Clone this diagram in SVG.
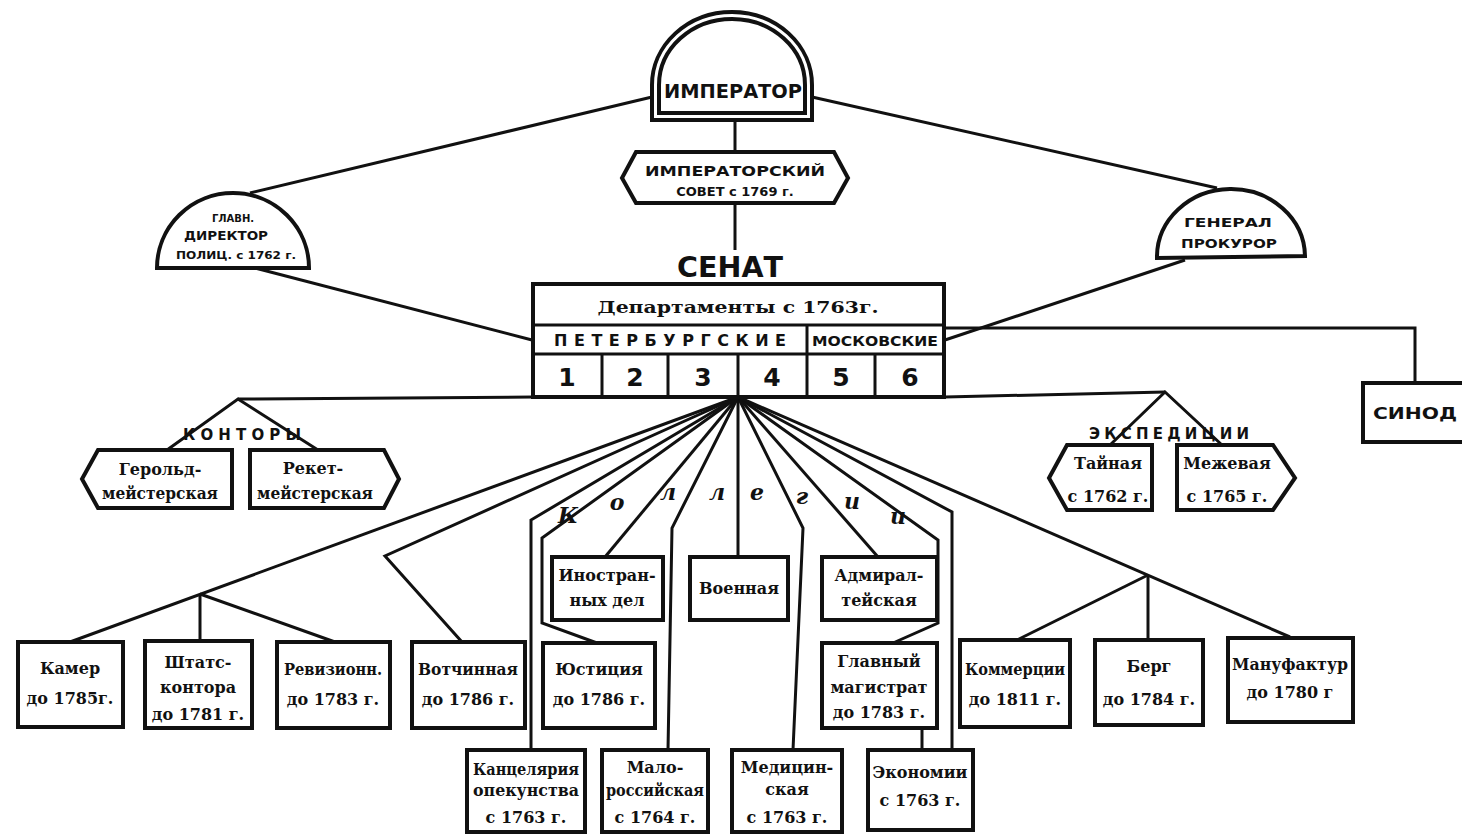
<svg xmlns="http://www.w3.org/2000/svg" width="1462" height="836" viewBox="0 0 1462 836">
<style>
.bx{fill:#fff;stroke:#111;stroke-width:4;stroke-linejoin:miter}
.ln{fill:none;stroke:#111;stroke-width:3;stroke-linejoin:miter}
.t{font-family:"DejaVu Serif","Liberation Serif",serif;font-weight:bold;font-size:16px;fill:#111;text-anchor:middle}
.s{font-family:"DejaVu Sans","Liberation Sans",sans-serif;font-weight:bold;fill:#111;text-anchor:middle}
.k{font-family:"DejaVu Serif","Liberation Serif",serif;font-weight:bold;font-style:italic;font-size:22px;fill:#111;text-anchor:middle}
</style>
<rect x="0" y="0" width="1462" height="836" fill="#fff"/>
<g id="connectors" class="ln">
<line x1="735" y1="120" x2="735" y2="152"/>
<line x1="735" y1="203" x2="735" y2="250"/>
<line x1="652" y1="97" x2="250" y2="193"/>
<line x1="812" y1="97" x2="1217" y2="188"/>
<line x1="255" y1="268" x2="532" y2="340"/>
<line x1="1185" y1="260" x2="945" y2="340"/>
<polyline points="945,328 1415,328 1415,383"/>
<polyline points="238,399 533,397"/>
<polyline points="945,397 1165,392"/>
<polyline points="167,450 238,399 318,450"/>
<polyline points="1110,445 1165,392 1222,445"/>
<line x1="738" y1="397" x2="70" y2="642"/>
<line x1="200" y1="594" x2="200" y2="641"/>
<line x1="200" y1="594" x2="335" y2="642"/>
<polyline points="738,397 385,556 462,642"/>
<polyline points="738,397 531,520 531,750"/>
<polyline points="738,397 542,538 542,623 597,643"/>
<line x1="738" y1="397" x2="605" y2="557"/>
<polyline points="738,397 672,528 668,750"/>
<line x1="738" y1="397" x2="738" y2="557"/>
<polyline points="738,397 803,528 793,750"/>
<line x1="738" y1="397" x2="878" y2="557"/>
<polyline points="738,397 938,540 938,623 893,643"/>
<polyline points="738,397 952,512 952,750"/>
<line x1="922" y1="728" x2="922" y2="750"/>
<line x1="738" y1="397" x2="1290" y2="637"/>
<line x1="1148" y1="575" x2="1148" y2="640"/>
<line x1="1148" y1="575" x2="1017" y2="640"/>
</g>
<g id="emperor">
<path class="bx" d="M652,120 L652,85 A80,73 0 0 1 812,85 L812,120 Z"/>
<path class="bx" stroke-width="3" d="M659,113 L659,85 A73,66 0 0 1 805,85 L805,113 Z"/>
<text class="s" x="733" y="98" font-size="20" textLength="138" lengthAdjust="spacingAndGlyphs">ИМПЕРАТОР</text>
</g>
<g id="imperial-council">
<path class="bx" d="M636,152 L834,152 L848,178 L834,203 L636,203 L622,178 Z"/>
<text class="s" x="735" y="176" font-size="14" textLength="180" lengthAdjust="spacingAndGlyphs">ИМПЕРАТОРСКИЙ</text>
<text class="s" x="735" y="196" font-size="13">СОВЕТ с 1769 г.</text>
</g>
<g id="glavn-direktor">
<path class="bx" d="M157,268 A76,75 0 0 1 309,268 Z"/>
<text class="s" x="233" y="222" font-size="10">ГЛАВН.</text>
<text class="s" x="226" y="240" font-size="12" textLength="84" lengthAdjust="spacingAndGlyphs">ДИРЕКТОР</text>
<text class="s" x="236" y="259" font-size="10" textLength="120" lengthAdjust="spacingAndGlyphs">ПОЛИЦ. с 1762 г.</text>
</g>
<g id="gen-prokuror">
<path class="bx" d="M1157,258 A74,68 0 0 1 1305,256 Z"/>
<text class="s" x="1228" y="227" font-size="12" textLength="88" lengthAdjust="spacingAndGlyphs">ГЕНЕРАЛ</text>
<text class="s" x="1229" y="248" font-size="12" textLength="96" lengthAdjust="spacingAndGlyphs">ПРОКУРОР</text>
</g>
<g id="senate">
<text class="s" x="730" y="277" font-size="29" textLength="106" lengthAdjust="spacingAndGlyphs">СЕНАТ</text>
<rect class="bx" x="533" y="284" width="411" height="113"/>
<line class="ln" x1="533" y1="325" x2="944" y2="325"/>
<line class="ln" x1="533" y1="354" x2="944" y2="354"/>
<line class="ln" x1="807" y1="325" x2="807" y2="397"/>
<line class="ln" x1="602" y1="354" x2="602" y2="397"/>
<line class="ln" x1="668" y1="354" x2="668" y2="397"/>
<line class="ln" x1="738" y1="354" x2="738" y2="397"/>
<line class="ln" x1="875" y1="354" x2="875" y2="397"/>
<text class="t" x="738" y="313" font-size="22" textLength="281" lengthAdjust="spacingAndGlyphs">Департаменты с 1763г.</text>
<text class="s" x="670" y="346" font-size="16" textLength="232" lengthAdjust="spacing">ПЕТЕРБУРГСКИЕ</text>
<text class="s" x="875" y="346" font-size="14" textLength="126" lengthAdjust="spacingAndGlyphs">МОСКОВСКИЕ</text>
<text class="s" x="567" y="386" font-size="25">1</text>
<text class="s" x="635" y="386" font-size="25">2</text>
<text class="s" x="703" y="386" font-size="25">3</text>
<text class="s" x="772" y="386" font-size="25">4</text>
<text class="s" x="841" y="386" font-size="25">5</text>
<text class="s" x="910" y="386" font-size="25">6</text>
</g>
<g id="synod">
<rect class="bx" x="1363" y="383" width="110" height="59"/>
<text class="s" x="1415" y="419" font-size="16" textLength="84" lengthAdjust="spacingAndGlyphs">СИНОД</text>
</g>
<g id="kontory-label">
<text class="s" x="242" y="440" font-size="15" textLength="118" lengthAdjust="spacing">КОНТОРЫ</text>
</g>
<g id="gerold">
<path class="bx" d="M98,450 L232,450 L232,508 L98,508 L82,479 Z"/>
<text class="t" x="160" y="475" font-size="16">Герольд-</text>
<text class="t" x="160" y="499" font-size="15" textLength="116" lengthAdjust="spacingAndGlyphs">мейстерская</text>
</g>
<g id="reket">
<path class="bx" d="M250,450 L384,450 L399,479 L384,508 L250,508 Z"/>
<text class="t" x="313" y="474" font-size="16">Рекет-</text>
<text class="t" x="315" y="499" font-size="15" textLength="116" lengthAdjust="spacingAndGlyphs">мейстерская</text>
</g>
<g id="ekspeditsii-label">
<text class="s" x="1169" y="439" font-size="15" textLength="160" lengthAdjust="spacing">ЭКСПЕДИЦИИ</text>
</g>
<g id="tainaya">
<path class="bx" d="M1067,445 L1152,445 L1152,510 L1067,510 L1049,478 Z"/>
<text class="t" x="1108" y="469" font-size="16">Тайная</text>
<text class="t" x="1108" y="502" font-size="16">с 1762 г.</text>
</g>
<g id="mezhevaya">
<path class="bx" d="M1177,445 L1273,445 L1295,478 L1273,510 L1177,510 Z"/>
<text class="t" x="1227" y="469" font-size="16">Межевая</text>
<text class="t" x="1227" y="502" font-size="16">с 1765 г.</text>
</g>
<g id="kollegii-label">
<text class="k" x="568 617 668 717 757 802 852 898" y="523 510 500 500 500 504 509 524">Коллегии</text>
</g>
<g id="kamer">
<rect class="bx" x="18" y="642" width="105" height="85"/>
<text class="t" x="70" y="674">Камер</text>
<text class="t" x="70" y="704">до 1785г.</text>
</g>
<g id="shtats">
<rect class="bx" x="145" y="641" width="107" height="87"/>
<text class="t" x="198" y="668" font-size="17">Штатс-</text>
<text class="t" x="198" y="693">контора</text>
<text class="t" x="198" y="720">до 1781 г.</text>
</g>
<g id="reviz">
<rect class="bx" x="277" y="642" width="113" height="86"/>
<text class="t" x="333" y="675" textLength="98" lengthAdjust="spacingAndGlyphs">Ревизионн.</text>
<text class="t" x="333" y="705">до 1783 г.</text>
</g>
<g id="votchin">
<rect class="bx" x="412" y="642" width="113" height="86"/>
<text class="t" x="468" y="675" textLength="100" lengthAdjust="spacingAndGlyphs">Вотчинная</text>
<text class="t" x="468" y="705">до 1786 г.</text>
</g>
<g id="yustits">
<rect class="bx" x="543" y="643" width="112" height="85"/>
<text class="t" x="599" y="675">Юстиция</text>
<text class="t" x="599" y="705">до 1786 г.</text>
</g>
<g id="inostran">
<rect class="bx" x="552" y="557" width="111" height="63"/>
<text class="t" x="607" y="581">Иностран-</text>
<text class="t" x="607" y="606">ных дел</text>
</g>
<g id="voennaya">
<rect class="bx" x="690" y="557" width="98" height="63"/>
<text class="t" x="739" y="594">Военная</text>
</g>
<g id="admiral">
<rect class="bx" x="822" y="557" width="115" height="63"/>
<text class="t" x="879" y="581">Адмирал-</text>
<text class="t" x="879" y="606">тейская</text>
</g>
<g id="glavny-magistrat">
<rect class="bx" x="822" y="643" width="115" height="85"/>
<text class="t" x="879" y="667">Главный</text>
<text class="t" x="879" y="693">магистрат</text>
<text class="t" x="879" y="718">до 1783 г.</text>
</g>
<g id="kommerts">
<rect class="bx" x="960" y="640" width="110" height="87"/>
<text class="t" x="1015" y="675" textLength="100" lengthAdjust="spacingAndGlyphs">Коммерции</text>
<text class="t" x="1015" y="705">до 1811 г.</text>
</g>
<g id="berg">
<rect class="bx" x="1095" y="640" width="108" height="85"/>
<text class="t" x="1149" y="672">Берг</text>
<text class="t" x="1149" y="705">до 1784 г.</text>
</g>
<g id="manufaktur">
<rect class="bx" x="1228" y="638" width="125" height="84"/>
<text class="t" x="1290" y="670" textLength="116" lengthAdjust="spacingAndGlyphs">Мануфактур</text>
<text class="t" x="1290" y="698">до 1780 г</text>
</g>
<g id="kants-opekunstva">
<rect class="bx" x="467" y="750" width="118" height="82"/>
<text class="t" x="526" y="775" textLength="106" lengthAdjust="spacingAndGlyphs">Канцелярия</text>
<text class="t" x="526" y="796" textLength="106" lengthAdjust="spacingAndGlyphs">опекунства</text>
<text class="t" x="526" y="823">с 1763 г.</text>
</g>
<g id="malorossiyskaya">
<rect class="bx" x="602" y="750" width="106" height="82"/>
<text class="t" x="655" y="773">Мало-</text>
<text class="t" x="655" y="796" textLength="98" lengthAdjust="spacingAndGlyphs">российская</text>
<text class="t" x="655" y="823">с 1764 г.</text>
</g>
<g id="meditsinskaya">
<rect class="bx" x="732" y="750" width="110" height="82"/>
<text class="t" x="787" y="773">Медицин-</text>
<text class="t" x="787" y="795" font-size="13">ская</text>
<text class="t" x="787" y="823">с 1763 г.</text>
</g>
<g id="ekonomii">
<rect class="bx" x="868" y="750" width="105" height="80"/>
<text class="t" x="920" y="778">Экономии</text>
<text class="t" x="920" y="806">с 1763 г.</text>
</g>
</svg>
